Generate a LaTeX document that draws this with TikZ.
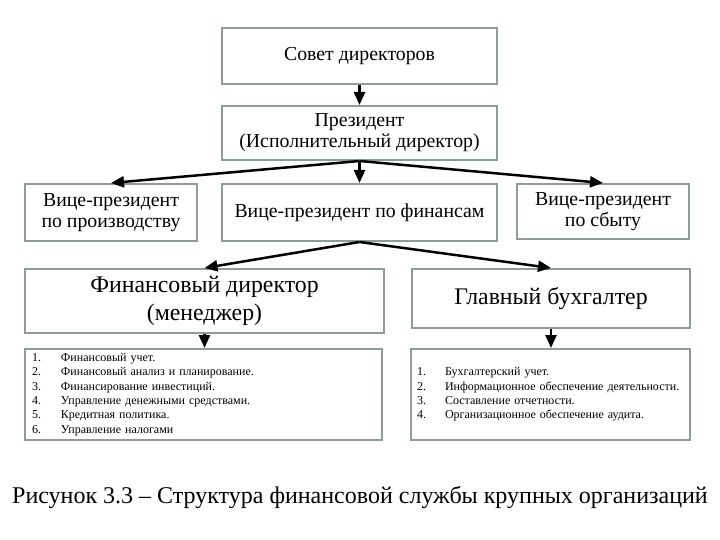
\documentclass[tikz,border=0pt]{standalone}
\usepackage{fontspec}
\setmainfont{Liberation Serif}
\usetikzlibrary{arrows.meta}
\definecolor{boxline}{RGB}{140,156,150}
\begin{document}
\begin{tikzpicture}[x=1pt,y=-1pt,
        unit/.style={rectangle, draw=boxline, line width=2pt, align=center, inner sep=0pt, font=\fontsize{19.8}{21}\selectfont},
        bigunit/.style={unit, font=\fontsize{23.8}{28}\selectfont},
        tasks/.style={rectangle, draw=boxline, line width=2pt, align=left, inner xsep=7pt, inner ysep=0pt, font=\fontsize{12}{14.3}\selectfont},
        link/.style={-{Triangle[length=13pt,width=11pt]}, line width=2.5pt}
    ]
        \useasboundingbox (0,0) rectangle (720,540);

        % Верхний уровень
        \node[unit, minimum width=275pt, minimum height=56pt] (board) at (359.5,56) {Совет директоров};
        \node[unit, minimum width=275pt, minimum height=54pt] (president) at (359.5,133) {Президент\\(Исполнительный директор)};

        % Вице-президенты
        \node[unit, minimum width=172pt, minimum height=57pt] (vpprod) at (111,212.5) {Вице-президент\\по производству};
        \node[unit, minimum width=275pt, minimum height=57pt] (vpfin) at (359.5,212.5) {Вице-президент по финансам};
        \node[unit, minimum width=172pt, minimum height=55pt] (vpsales) at (603,211.5) {Вице-президент\\по сбыту};

        % Финансовая служба
        \node[bigunit, minimum width=359pt, minimum height=64pt] (findir) at (204.5,301) {Финансовый директор\\(менеджер)};
        \node[bigunit, minimum width=278pt, minimum height=59pt] (chacc) at (551,298.5) {Главный бухгалтер};

        % Функции
        \node[tasks, text width=343pt, minimum height=91pt] (funcs1) at (203.5,394.5) {%
            \begin{tabular}{@{}p{29pt}@{}l@{}}
            1. & Финансовый учет.\\
            2. & Финансовый анализ и планирование.\\
            3. & Финансирование инвестиций.\\
            4. & Управление денежными средствами.\\
            5. & Кредитная политика.\\
            6. & Управление налогами
            \end{tabular}};
        \node[tasks, inner xsep=6pt, text width=267pt, minimum height=91pt] (funcs2) at (550.5,394.5) {%
            \begin{tabular}{@{}p{28pt}@{}l@{}}
            1. & Бухгалтерский учет.\\
            2. & Информационное обеспечение деятельности.\\
            3. & Составление отчетности.\\
            4. & Организационное обеспечение аудита.
            \end{tabular}};

        % Подпись
        \node[font=\fontsize{24}{28}\selectfont] (caption) at (360,497) {Рисунок 3.3 -- Структура финансовой службы крупных организаций};

        % Связи
        \draw[link] (board) -- (president);
        \draw[link] (president.south) -- (vpprod.north);
        \draw[link] (president.south) -- (vpfin.north);
        \draw[link] (president.south) -- (vpsales.north);
        \draw[link] (vpfin.south) -- (findir.north);
        \draw[link] (vpfin.south) -- (chacc.north);
        \draw[link] (findir.south) -- (findir.south |- funcs1.north);
        \draw[link] (chacc.south) -- (chacc.south |- funcs2.north);
    \end{tikzpicture}
\end{document}
